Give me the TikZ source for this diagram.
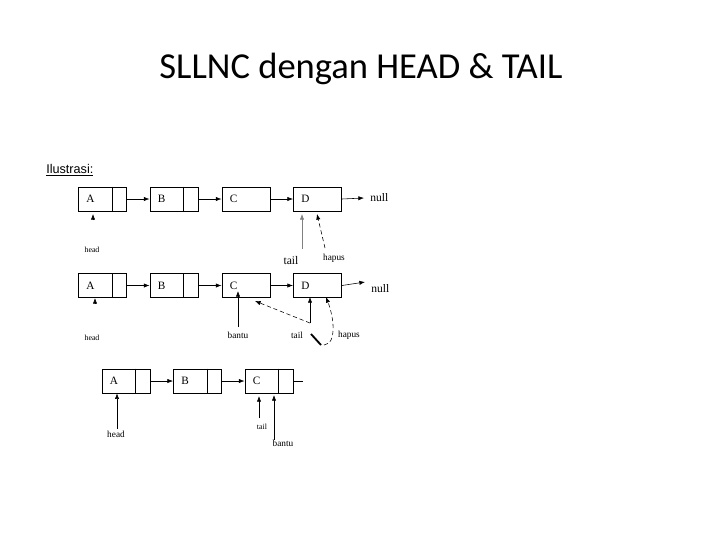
\documentclass[tikz,border=0pt]{standalone}
\usepackage{fontspec}
\setmainfont{Liberation Serif}
\newfontfamily\titlefont{Carlito}
\newfontfamily\arialfont{Liberation Sans}
\usetikzlibrary{arrows.meta}
\tikzset{
  cell/.style={draw, rectangle, minimum width=1.21cm, minimum height=0.6cm, inner sep=0pt},
  letter/.style={anchor=west, inner sep=0pt, font=\fontsize{8}{9}\selectfont},
  lbl/.style={inner sep=0pt, font=\fontsize{6.6}{8}\selectfont},
  ptr/.style={-{Latex[length=4pt,width=3pt]}, thin},
}
\begin{document}
\begin{tikzpicture}[x=0.025cm, y=-0.025cm]
\useasboundingbox (0,0) rectangle (720,540);
\node[font=\titlefont\fontsize{26}{30}\selectfont] (title) at (361,69) {SLLNC dengan HEAD \& TAIL};
\node[anchor=west, inner sep=0pt, font=\arialfont\fontsize{9}{10}\selectfont] (ilus) at (46,170) {\underline{Ilustrasi:}};

% baris pertama
\node[cell] (a1) at (102.5,199) {};
\node[cell] (b1) at (174,199) {};
\node[cell] (c1) at (246,199) {};
\node[cell] (d1) at (317.5,199) {};
\draw ([xshift=-0.375cm]a1.north east) -- ([xshift=-0.375cm]a1.south east);
\draw ([xshift=-0.375cm]b1.north east) -- ([xshift=-0.375cm]b1.south east);
\node[letter] (ta1) at ([xshift=0.2cm]a1.west) {A};
\node[letter] (tb1) at ([xshift=0.2cm]b1.west) {B};
\node[letter] (tc1) at ([xshift=0.2cm]c1.west) {C};
\node[letter] (td1) at ([xshift=0.2cm]d1.west) {D};
\node[letter, font=\fontsize{8.2}{9}\selectfont] (null1) at (370,198) {null};
\draw[ptr] (a1.east) -- (b1.west);
\draw[ptr] (b1.east) -- (c1.west);
\draw[ptr] (c1.east) -- (d1.west);
\draw[ptr] (d1.east) -- ([xshift=-0.15cm]null1.west);
\coordinate (head1) at (93,220);
\draw[ptr] (head1) -- ++(0,-6);
\node[lbl, font=\fontsize{5.6}{7}\selectfont] (lhead1) at (92,250) {head};
\coordinate (tail1) at (302,249);
\draw[ptr, gray] (tail1) -- (302,214);
\node[lbl, font=\fontsize{8.3}{9}\selectfont] (ltail1) at (291,261) {tail};
\coordinate (hapus1) at (325,248);
\draw[ptr, densely dashed] (hapus1) -- (317,214);
\node[lbl] (lhapus1) at (334,258) {hapus};

% baris kedua
\node[cell] (a2) at (102.5,285.5) {};
\node[cell] (b2) at (174,285.5) {};
\node[cell] (c2) at (246,285.5) {};
\node[cell] (d2) at (317.5,285.5) {};
\draw ([xshift=-0.375cm]a2.north east) -- ([xshift=-0.375cm]a2.south east);
\draw ([xshift=-0.375cm]b2.north east) -- ([xshift=-0.375cm]b2.south east);
\node[letter] (ta2) at ([xshift=0.2cm]a2.west) {A};
\node[letter] (tb2) at ([xshift=0.2cm]b2.west) {B};
\node[letter] (tc2) at ([xshift=0.2cm]c2.west) {C};
\node[letter] (td2) at ([xshift=0.2cm]d2.west) {D};
\node[letter, font=\fontsize{8.2}{9}\selectfont] (null2) at (371,289) {null};
\draw[ptr] (a2.east) -- (b2.west);
\draw[ptr] (b2.east) -- (c2.west);
\draw[ptr] (c2.east) -- (d2.west);
\draw[ptr] (d2.east) -- (365,282);
\coordinate (head2) at (95,304);
\draw[ptr] (head2) -- ++(0,-6);
\node[lbl, font=\fontsize{5.6}{7}\selectfont] (lhead2) at (92,338) {head};
\coordinate (bantu2) at (238,327);
\draw[ptr] (bantu2) -- (238,291);
\node[lbl] (lbantu2) at (238,335) {bantu};
\coordinate (tail2) at (310,323);
\draw[ptr] (tail2) -- (310,297);
\draw[ptr, densely dashed] (tail2) -- (255,301);
\node[lbl] (ltail2) at (297,335) {tail};
\draw[line width=1.3pt] (311,334) -- (321,345);
\coordinate (hapus2) at (324,345);
\draw[ptr, densely dashed] (hapus2) -- (329,343) .. controls (336,336) and (333,315) .. (326,297);
\node[lbl] (lhapus2) at (349,335) {hapus};

% baris ketiga
\node[cell] (a3) at (126,381) {};
\node[cell] (b3) at (197.5,381) {};
\node[cell] (c3) at (269,381) {};
\draw ([xshift=-0.375cm]a3.north east) -- ([xshift=-0.375cm]a3.south east);
\draw ([xshift=-0.375cm]b3.north east) -- ([xshift=-0.375cm]b3.south east);
\draw ([xshift=-0.375cm]c3.north east) -- ([xshift=-0.375cm]c3.south east);
\node[letter] (ta3) at ([xshift=0.2cm]a3.west) {A};
\node[letter] (tb3) at ([xshift=0.2cm]b3.west) {B};
\node[letter] (tc3) at ([xshift=0.2cm]c3.west) {C};
\draw[ptr] (a3.east) -- (b3.west);
\draw[ptr] (b3.east) -- (c3.west);
\coordinate (nxt3) at (303,381);
\draw (c3.east) -- (nxt3);
\coordinate (head3) at (117,429);
\draw[ptr] (head3) -- (a3.south -| head3);
\node[lbl] (lhead3) at (116,434) {head};
\coordinate (tail3) at (259,418);
\draw[ptr] (tail3) -- (259,396);
\node[lbl, font=\fontsize{5.6}{7}\selectfont] (ltail3) at (262,427) {tail};
\coordinate (bantu3) at (274,440);
\draw[ptr] (bantu3) -- (274,395);
\node[lbl] (lbantu3) at (283,443) {bantu};
\end{tikzpicture}
\end{document}
